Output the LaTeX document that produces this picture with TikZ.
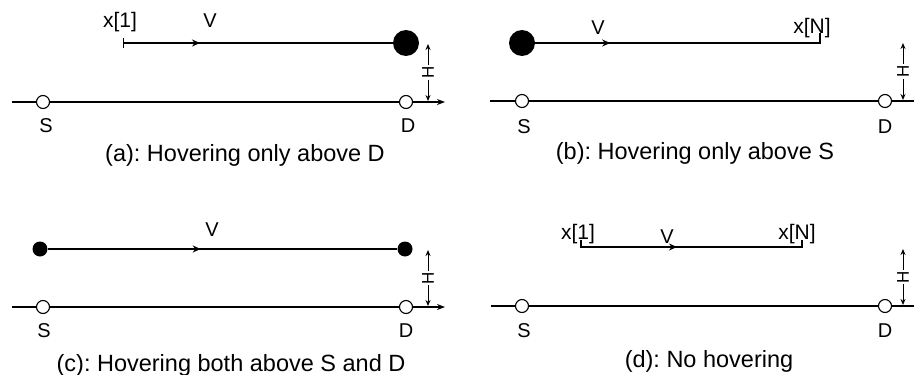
\documentclass[tikz,border=0pt]{standalone}
\usepackage{fontspec}
\setmainfont{Liberation Sans}
\frenchspacing
\usetikzlibrary{positioning,arrows.meta,decorations.markings}
\tikzset{
  gline/.style={line width=1.3pt,-{Stealth[length=8pt,width=6pt]}},
  vline/.style={line width=1.3pt,postaction={decorate},decoration={markings,mark=at position #1 with {\arrow{Stealth[length=8pt,width=7pt]}}}},
  hdim/.style={line width=1pt,{Stealth[length=6pt,width=5pt]}-{Stealth[length=6pt,width=5pt]}},
  ovtx/.style={circle,draw,fill=white,line width=1.1pt,minimum size=13pt,inner sep=0pt},
  bvtx/.style={circle,fill=black,minimum size=26pt,inner sep=0pt},
  svtx/.style={circle,fill=black,minimum size=15pt,inner sep=0pt},
  lab/.style={font=\fontsize{20}{22}\selectfont,anchor=base,inner sep=0pt},
  xlab/.style={font=\fontsize{21}{24}\selectfont,anchor=base,inner sep=0pt},
  hlab/.style={font=\fontsize{17}{19}\selectfont,fill=white,rotate=90,inner sep=1pt},
  capt/.style={font=\fontsize{23.5}{26}\selectfont,anchor=base,inner sep=0pt}
}
\begin{document}
\begin{tikzpicture}[x=1pt,y=-1pt]
  \useasboundingbox (0,0) rectangle (914,375);
  % (a) hovering above D
  \coordinate (aL) at (12,102); \coordinate (aR) at (445,102);
  \node[ovtx] (aS) at (43,102) {}; \node[ovtx] (aD) at (406,102) {};
  \draw[gline] (aL) -- (aS) -- (aD) -- (aR);
  \node[bvtx] (aDot) at (406,43) {}; \coordinate (aX1) at (123,43);
  \draw[vline=77pt,{Bar[width=10pt]}-] (aX1) -- (aDot);
  \node[xlab] (aX1l) at (120,27) {x[1]}; \node[lab] (aVl) at (210,27) {V};
  \node[lab] (aSl) at (46,132) {S}; \node[lab] (aDl) at (408,132) {D};
  \coordinate (aHt) at (428,44); \coordinate (aHb) at (428,101);
  \draw[hdim] (aHt) -- (aHb) node[midway,hlab] (aH) {H};
  \node[capt] (aCap) at (245,161) {(a): Hovering only above D};
  % (b) hovering above S
  \coordinate (bL) at (490,101); \coordinate (bR) at (925,101);
  \node[ovtx] (bS) at (522,101) {}; \node[ovtx] (bD) at (885,101) {};
  \draw[gline] (bL) -- (bS) -- (bD) -- (bR);
  \node[bvtx] (bDot) at (522,43) {}; \coordinate (bXN) at (820,43);
  \draw[vline=75pt] (bDot) -- (bXN) -- ++(0,-10);
  \node[lab] (bVl) at (598,34) {V}; \node[xlab] (bXNl) at (812,33) {x[N]};
  \node[lab] (bSl) at (524,133) {S}; \node[lab] (bDl) at (885,133) {D};
  \coordinate (bHt) at (903,43); \coordinate (bHb) at (903,100);
  \draw[hdim] (bHt) -- (bHb) node[midway,hlab] (bH) {H};
  \node[capt] (bCap) at (695,159) {(b): Hovering only above S};
  % (c) hovering above both
  \coordinate (cL) at (12,307); \coordinate (cR) at (445,307);
  \node[ovtx] (cS) at (43,307) {}; \node[ovtx] (cD) at (406,307) {};
  \draw[gline] (cL) -- (cS) -- (cD) -- (cR);
  \node[svtx] (cDot1) at (40,249) {}; \node[svtx] (cDot2) at (405,249) {};
  \draw[vline=153pt] (cDot1) -- (cDot2);
  \node[lab] (cVl) at (212,236) {V};
  \node[lab] (cSl) at (44,337) {S}; \node[lab] (cDl) at (406,337) {D};
  \coordinate (cHt) at (428,250); \coordinate (cHb) at (428,306);
  \draw[hdim] (cHt) -- (cHb) node[midway,hlab] (cH) {H};
  \node[capt] (cCap) at (231,371) {(c): Hovering both above S and D};
  % (d) no hovering
  \coordinate (dL) at (491,306); \coordinate (dR) at (925,306);
  \node[ovtx] (dS) at (522,306) {}; \node[ovtx] (dD) at (885,306) {};
  \draw[gline] (dL) -- (dS) -- (dD) -- (dR);
  \coordinate (dX1) at (581,247); \coordinate (dXN) at (802,247);
  \draw[vline=103pt] (dX1) ++(0,-7) -- (dX1) -- (dXN) -- ++(0,-7);
  \node[xlab] (dX1l) at (578,239) {x[1]}; \node[lab] (dVl) at (667,243) {V};
  \node[xlab] (dXNl) at (797,239) {x[N]};
  \node[lab] (dSl) at (524,337) {S}; \node[lab] (dDl) at (885,337) {D};
  \coordinate (dHt) at (903,249); \coordinate (dHb) at (903,305);
  \draw[hdim] (dHt) -- (dHb) node[midway,hlab] (dH) {H};
  \node[capt] (dCap) at (709,367) {(d): No hovering};
\end{tikzpicture}
\end{document}
